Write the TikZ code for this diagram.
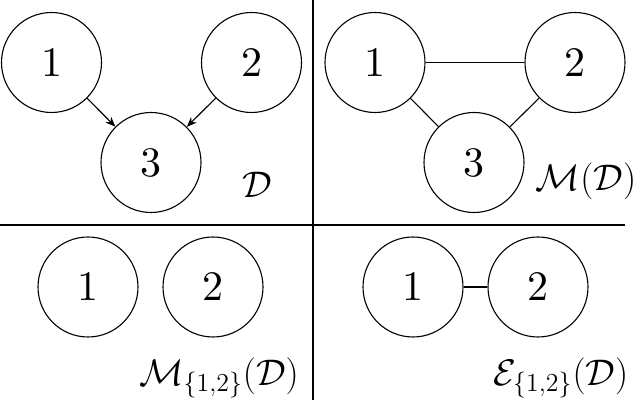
\documentclass[tikz,border=0pt]{standalone}
\usepackage{fix-cm}
\usepackage{fontspec}
\newfontfamily\digfont{lmroman10-regular}[Extension=.otf]
\usetikzlibrary{arrows.meta}
\begin{document}
\begin{tikzpicture}[x=0.5pt,y=-0.5pt,
  vtx/.style={circle,draw,line width=0.55pt,minimum size=50pt,inner sep=0pt,font=\digfont\fontsize{21}{25}\selectfont},
  lbl/.style={inner sep=0pt,font=\fontsize{18.5}{22}\selectfont},
  edge/.style={line width=0.55pt},
  arr/.style={line width=0.55pt,-{Stealth[length=5pt,width=4pt]}},
  sep/.style={line width=0.55pt}]
\useasboundingbox (0,0) rectangle (638,400);
% separators
\coordinate (vt) at (313,0);
\coordinate (vb) at (313,400);
\coordinate (hl) at (0,225);
\coordinate (hr) at (625,225);
\draw[sep] (vt) -- (vb);
\draw[sep] (hl) -- (hr);
% top-left: D
\node[vtx] (a1) at (51.5,62.5) {1};
\node[vtx] (a2) at (251.5,62.5) {2};
\node[vtx] (a3) at (151,162.5) {3};
\draw[arr] (a1) -- (a3);
\draw[arr] (a2) -- (a3);
\node[lbl] (la) at (257,185) {$\mathcal{D}$};
% top-right: M(D)
\node[vtx] (b1) at (375,62.5) {1};
\node[vtx] (b2) at (575,62.5) {2};
\node[vtx] (b3) at (474,162.5) {3};
\draw[edge] (b1) -- (b2);
\draw[edge] (b1) -- (b3);
\draw[edge] (b2) -- (b3);
\node[lbl] (lb) at (586,181) {$\mathcal{M}(\mathcal{D})$};
% bottom-left
\node[vtx] (c1) at (88,287) {1};
\node[vtx] (c2) at (213,287) {2};
\node[lbl] (lc) at (219,378) {$\mathcal{M}_{\{1,2\}}(\mathcal{D})$};
% bottom-right
\node[vtx] (d1) at (413,287) {1};
\node[vtx] (d2) at (538,287) {2};
\draw[edge] (d1) -- (d2);
\node[lbl] (ld) at (561,378) {$\mathcal{E}_{\{1,2\}}(\mathcal{D})$};
\end{tikzpicture}
\end{document}
